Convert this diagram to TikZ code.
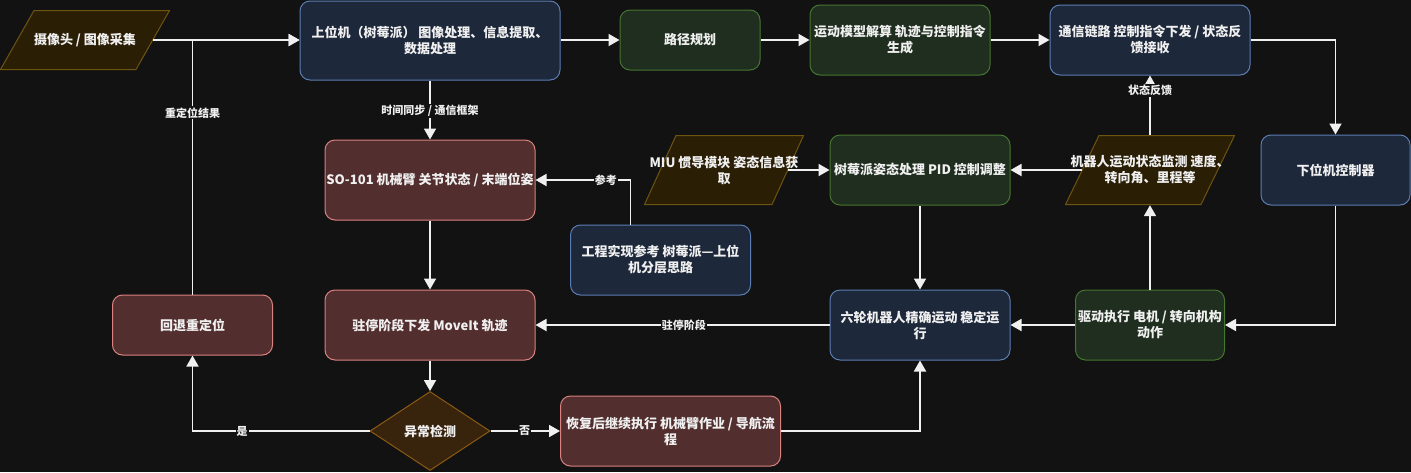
\documentclass[tikz,border=0pt]{standalone}
\usepackage{fontspec}
\setmainfont{Noto Sans CJK SC}
\usetikzlibrary{arrows.meta,calc,shapes.geometric}
\definecolor{bg}{HTML}{121212}
\definecolor{bluef}{HTML}{1D283A}
\definecolor{blued}{HTML}{5B7DB3}
\definecolor{redf}{HTML}{522E2E}
\definecolor{redd}{HTML}{D9827F}
\definecolor{greenf}{HTML}{1F2E1E}
\definecolor{greend}{HTML}{457530}
\definecolor{yelf}{HTML}{2A1E05}
\definecolor{yeld}{HTML}{6E5411}
\definecolor{orf}{HTML}{38230D}
\definecolor{ord}{HTML}{8A5A12}
\definecolor{txt}{HTML}{F0F0F0}
\begin{document}
\begin{tikzpicture}[x=1pt,y=-1pt,
  nodefont/.style={font=\fontsize{13}{16}\selectfont\bfseries, text=txt, align=center},
  box/.style={nodefont, rounded corners=10pt, line width=1pt, inner sep=0pt},
  bluebox/.style={box, fill=bluef, draw=blued},
  redbox/.style={box, fill=redf, draw=redd},
  greenbox/.style={box, fill=greenf, draw=greend},
  para/.style={nodefont, inner sep=0pt, minimum width=#1, minimum height=70pt,
    path picture={\filldraw[fill=yelf, draw=yeld, line width=1pt]
      let \p1=(path picture bounding box.south west),
          \p2=(path picture bounding box.north east),
          \n1={0.2*(\x2-\x1)} in
      (\x1+0.5pt,\y1+0.5pt) -- (\x2-\n1,\y1+0.5pt) -- (\x2-0.5pt,\y2-0.5pt) -- (\x1+\n1,\y2-0.5pt) -- cycle;}},
  dec/.style={nodefont, shape=diamond, fill=orf, draw=ord, line width=1pt, inner sep=0pt, minimum width=120pt, minimum height=79pt},
  arr/.style={draw=txt, line width=1.8pt, -{Triangle[length=11pt,width=12pt]}},
  elab/.style={font=\fontsize{11}{13}\selectfont\bfseries, text=txt, fill=bg, inner sep=1pt}
]
\fill[bg] (0,0) rectangle (1411,472);
\useasboundingbox (0,0) rectangle (1411,472);

% row 1
\node[para=170pt, minimum height=60pt] (cam) at (85,40) {摄像头 / 图像采集};
\node[bluebox, minimum width=260pt, minimum height=79pt] (up) at (430,40.5) {上位机（树莓派） 图像处理、信息提取、\\数据处理};
\node[greenbox, minimum width=140pt, minimum height=60pt] (plan) at (690,40) {路径规划};
\node[greenbox, minimum width=180pt, minimum height=70pt] (kin) at (900,40) {运动模型解算 轨迹与控制指令\\生成};
\node[bluebox, minimum width=200pt, minimum height=70pt] (comm) at (1150,40) {通信链路 控制指令下发 / 状态反\\馈接收};

% row 2
\node[redbox, minimum width=210pt, minimum height=80pt] (so) at (430,180) {SO-101 机械臂 关节状态 / 末端位姿};
\node[para=160pt] (miu) at (724,170) {MIU 惯导模块 姿态信息获\\取};
\node[greenbox, minimum width=180pt, minimum height=70pt] (pid) at (920,170) {树莓派姿态处理 PID 控制调整};
\node[para=170pt] (mon) at (1150,170) {机器人运动状态监测 速度、\\转向角、里程等};
\node[bluebox, minimum width=149pt, minimum height=70pt] (low) at (1335.5,170) {下位机控制器};

% row 3
\node[bluebox, minimum width=180pt, minimum height=70pt] (ref) at (660.5,260) {工程实现参考 树莓派—上位\\机分层思路};
\node[redbox, minimum width=160pt, minimum height=60pt] (back) at (192.5,325) {回退重定位};
\node[redbox, minimum width=210pt, minimum height=70pt] (park) at (430,325) {驻停阶段下发 MoveIt 轨迹};
\node[bluebox, minimum width=180pt, minimum height=70pt] (six) at (920,325) {六轮机器人精确运动 稳定运\\行};
\node[greenbox, minimum width=149pt, minimum height=70pt] (drive) at (1150,325) {驱动执行 电机 / 转向机构\\动作};

% row 4
\node[dec] (chk) at (430,431) {异常检测};
\node[redbox, minimum width=220pt, minimum height=70pt] (res) at (670.5,431) {恢复后继续执行 机械臂作业 / 导航流\\程};

% connectors
\draw[arr] ($(cam.east)+(-17,0)$) -- (cam -| up.west);
\draw[arr] (back.north) |- (cam -| up.west) node[elab, pos=0.357] (l1) {重定位结果};
\draw[arr] (up.east |- plan) -- (plan.west);
\draw[arr] (plan.east) -- (kin.west);
\draw[arr] (kin.east) -- (comm.west);
\draw[arr] (comm.east) -| (low.north);
\draw[arr] (up.south) -- (so.north) node[elab, pos=0.52] (l2) {时间同步 / 通信框架};
\draw[arr] ($(ref.north)+(-30,0)$) |- (so.east) node[elab, pos=0.63] (l3) {参考};
\draw[arr] (so.south) -- (park.north);
\draw[arr] ($(miu.east)+(-16,0)$) -- (pid.west);
\draw[arr] ($(mon.west)+(17,0)$) -- (pid.east);
\draw[arr] (mon.north) -- (comm.south) node[elab, pos=0.75] (l4) {状态反馈};
\draw[arr] (drive.north) -- (mon.south);
\draw[arr] (pid.south) -- (six.north);
\draw[arr] (low.south) |- (drive.east);
\draw[arr] (drive.west) -- (six.east);
\draw[arr] (six.west) -- (park.east) node[elab, pos=0.495] (l5) {驻停阶段};
\draw[arr] (park.south) -- (chk.north);
\draw[arr] (chk.west) -| (back.south) node[elab, pos=0.36] (l6) {是};
\draw[arr] (chk.east) -- (res.west) node[elab, pos=0.49] (l7) {否};
\draw[arr] (res.east) -| (six.south);
\end{tikzpicture}
\end{document}
